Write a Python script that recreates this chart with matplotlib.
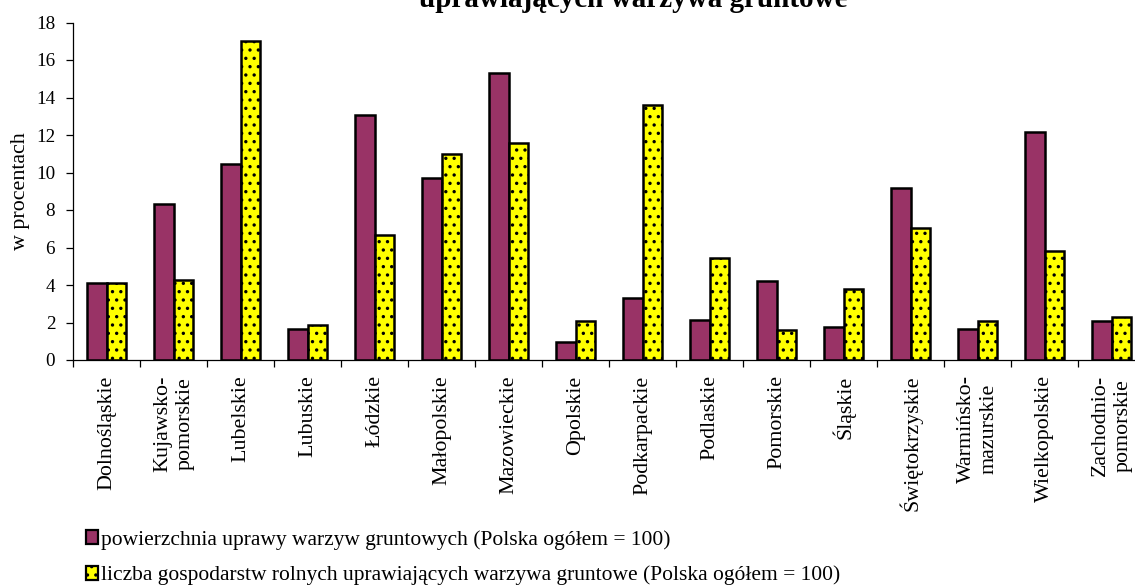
import matplotlib
matplotlib.use("Agg")
import matplotlib.pyplot as plt
import numpy as np
from matplotlib.patches import Patch

plt.rcParams['font.family'] = ['Liberation Serif', 'DejaVu Serif']
plt.rcParams['hatch.linewidth'] = 1.2

regions = ["Dolnośląskie", "Kujawsko-\npomorskie", "Lubelskie", "Lubuskie", "Łódzkie",
           "Małopolskie", "Mazowieckie", "Opolskie", "Podkarpackie", "Podlaskie",
           "Pomorskie", "Śląskie", "Świętokrzyskie", "Warmińsko-\nmazurskie",
           "Wielkopolskie", "Zachodnio-\npomorskie"]
area = [4.09, 8.34, 10.43, 1.65, 13.09, 9.69, 15.29, 0.98, 3.32, 2.12,
        4.21, 1.76, 9.19, 1.67, 12.16, 2.08]
farms = [4.10, 4.29, 17.01, 1.85, 6.67, 10.99, 11.56, 2.08, 13.60, 5.44,
         1.60, 3.79, 7.02, 2.10, 5.80, 2.29]
yticks = [0, 2, 4, 6, 8, 10, 12, 14, 16, 18]

label_area = "powierzchnia uprawy warzyw gruntowych (Polska ogółem = 100)"
label_farms = "liczba gospodarstw rolnych uprawiających warzywa gruntowe (Polska ogółem = 100)"
title = "uprawiających warzywa gruntowe"

maroon = "#993366"
yellow = "#ffff00"

W, H = 1135, 585
fig = plt.figure(figsize=(W / 100, H / 100), dpi=100)
ax = fig.add_axes([73.3 / W, (H - 360) / H, 1072 / W, 337.5 / H])

x = np.arange(len(regions))
bw = 0.29
ax.bar(x - bw / 2, area, bw, color=maroon, edgecolor="black", linewidth=1.8)
ax.bar(x + bw / 2, farms, bw, color=yellow, edgecolor="black", linewidth=1.8, hatch="..")

ax.set_xlim(-0.5, len(regions) - 0.5)
ax.set_ylim(0, 18)
ax.set_yticks(yticks)
ax.set_xticks(x)
ax.set_xticklabels(regions, rotation=90, fontsize=15.8)
ax.set_xticks(np.arange(len(regions) + 1) - 0.5, minor=True)
ax.tick_params(axis="x", which="major", length=0, pad=11)
ax.tick_params(axis="x", which="minor", length=5, width=0.9, direction="out")
ax.tick_params(axis="y", length=5, width=0.9, direction="out", labelsize=13.8, pad=8)

for s in ["top", "right"]:
    ax.spines[s].set_visible(False)
for s in ["left", "bottom"]:
    ax.spines[s].set_linewidth(0.9)

fig.text(21 / W, (H - 191) / H, "w procentach", rotation=90, ha="center", va="center", fontsize=15.8)
fig.text(633 / W, (H - 7) / H, title, ha="center", va="baseline", fontsize=21, fontweight="bold")

handles = [Patch(facecolor=maroon, edgecolor="black", linewidth=1.6),
           Patch(facecolor=yellow, edgecolor="black", linewidth=1.6, hatch="..")]
fig.legend(handles, [label_area, label_farms], loc="upper left",
           bbox_to_anchor=(86 / W, (H - 530) / H), frameon=False, fontsize=15.5,
           handlelength=0.55, handleheight=0.6, handletextpad=0.15,
           labelspacing=0.74, borderpad=0, borderaxespad=0)

fig.savefig("out.png", dpi=100)
